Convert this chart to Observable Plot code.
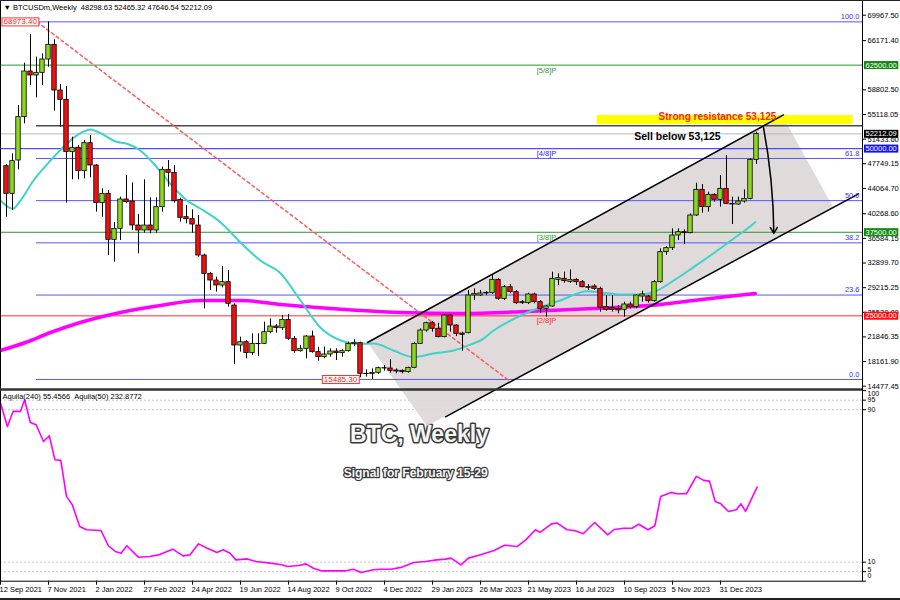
<!DOCTYPE html>
<html><head><meta charset="utf-8">
<script src="https://cdn.jsdelivr.net/npm/d3@7"></script>
<script src="https://cdn.jsdelivr.net/npm/@observablehq/plot@0.6"></script>
<style>
body{margin:0;background:#fff;}
#wrap{position:relative;width:900px;height:600px;overflow:hidden;background:#fff;}
#wrap svg{position:absolute;left:0;}
svg text{paint-order:stroke;}
.bline{position:absolute;background:#222;}
</style></head><body><div id="wrap"></div>
<script>
// ---------- DATA ----------
const opens = [47388,43250,48235,54717,61547,60948,61347,63341,65535,58705,
57309,49481,50130,46640,50827,47487,41853,43250,36369,38014,
42402,42103,38513,37765,38513,37765,41255,46839,46391,42352,
39759,39460,38513,34025,31284,30287,29538,30038,26547,20564,
21063,19418,20813,20813,22558,23405,23156,24403,21562,19717,
20066,21911,19567,18819,19218,19667,19418,19717,20764,20913,
16327,16277,16477,17175,17125,16826,16776,16576,17225,20813,
22807,23904,23056,21811,25051,23554,22360,22409,28043,28043,
28342,28392,30386,27544,29290,28542,26897,26897,28193,27046,
26049,26398,30386,30536,30087,30386,30037,29290,29390,29040,
26299,26199,26049,25899,26697,26299,27894,27894,27195,30037,
34524,35122,37016,37515,37366,40009,43848,41255,43100,42352,
43997,41753,41653,42102,42501,48298.63];
const highs = [47637,49232,56462,62793,67081,63691,64189,68973.4,66283,59602,
59303,51725,50478,51226,51974,47637,43997,43748,38961,42751,
45991,44894,40158,45343,42651,42651,47238,48235,47487,42601,
41504,40856,40009,34225,31500,30785,32381,31782,26797,21811,
21312,22309,22309,24054,24553,23705,25051,25200,21911,20564,
22060,22708,20315,20315,20066,20066,19916,21063,21412,21063,
16926,17076,17325,17575,18422,17076,16926,17325,21063,23056,
24054,24153,23904,25200,25200,23705,22558,28800,29040,28792,
28642,31035,30536,29539,29689,28792,27295,28392,28392,27295,
26547,31534,31284,31534,31883,30536,30286,29689,29689,29290,
28043,28043,26547,27046,27046,28193,28692,28043,30286,35023,
35372,38014,38014,37864,40258,44845,44645,43499,43250,45991,
48983,42751,42751,43848,48484,52465.32];
const lows = [39759,40756,46839,53719,59453,57608,59453,62195,55614,53221,
41853,45343,45343,45493,45642,40507,39759,34025,33028,36269,
41753,37765,34275,37366,37266,37366,40507,44247,41853,39011,
38762,37366,33776,26049,28790,28541,29189,26298,17722,19567,
18570,19069,18920,20714,22309,22409,22807,21312,19418,19567,
18570,19418,18221,18570,18820,18320,18820,19567,20415,15730,
15830,15485.3,16227,16726,16427,16327,16327,16427,17076,20714,
22558,22558,21712,21712,22558,21900,19717,22309,27295,27893,
28043,28192,27295,27295,28293,26697,26697,26697,26797,25400,
24804,26298,29540,29889,29889,29540,29190,28791,28791,25550,
25700,25550,25300,24804,26049,26049,27046,26897,27046,29889,
34025,34774,36269,35671,37266,39859,40358,40507,42003,41255,
41653,38662,41504,41853,42352,47646.54];
const closes = [43250,48135,54717,61547,60948,61347,63341,65535,58705,57309,
49481,50130,46640,50827,47487,41853,43250,36369,38014,42402,
42003,38513,37765,38513,37765,41255,46839,46391,42153,39659,
39460,38662,34025,31284,30287,29538,30038,26797,20564,21063,
19418,20813,20764,22558,23405,23156,24403,21562,19717,20066,
21911,19567,18819,19218,19667,19418,19717,20813,20964,16327,
16277,16477,17175,17125,16776,16676,16576,17225,20813,22807,
23904,23056,21811,25051,23554,22309,22160,28043,28292,28342,
28441,30386,27544,29290,28542,26897,27047,28193,27046,26049,
26398,30536,30635,30187,30336,30037,29290,29190,29040,26199,
25899,25899,25800,26697,26299,28043,28193,27195,30037,34524,
35122,37016,37515,37366,40009,43848,41255,43100,42352,43997,
41753,41653,42102,42501,48334,52212.09];

// 20-week moving average (cyan), read at week positions
const cyanWeek = [-1,1.05,2.33,4.5,7.33,10.1,12.3,14,15.67,18.2,20.1,22.3,24.5,27.8,30.1,32.3,35.7,39,42.3,45.7,49,52.3,55.7,58.4,61.2,64.5,67.8,71.2,74.5,77.8,79,81.2,86.8,92.3,96.8,99,102.3,105.2,107.8,111.2,114.5,117.8,121.2,123.5,124.8];
const cyanValue = [42252,41011,42252,45243,48234,50777,52317,52871,52317,51076,50732,49731,47787,44242,42252,41056,38962,35971,33279,31334,27296,23257,21313,20819,20864,19817,18815,19368,19817,20864,21313,22809,25501,27296,28687,28537,28193,28193,28537,30287,32276,34325,36569,38064,39007];
// 200-week moving average (magenta)
const magWeek = [-1,3.17,7.33,12.3,19,25.7,32.3,39,45.7,54,65.7,75.7,86.8,97.8,109,114.5,120.2,124.8];
const magValue = [19816,21014,22509,24005,25501,26548,27296,27296,26698,26099,25501,25352,25651,26099,26698,27296,27894,28343];
// Aquila(240) oscillator
const aquilaWeek = [-1,0.15,1.1,2.33,3.02,3.98,4.93,6.17,7.13,8.08,9.05,10,10.97,12.2,13.35,15.75,16.98,18.13,19.1,20.05,21.97,23.88,25.32,27.7,29.43,30.57,32,33.45,35.07,36.12,37.27,38.23,40.13,41.58,43.97,45.88,46.83,48.75,49.9,51.15,52.58,56.4,57.83,59.08,61.18,62.62,64.07,65.97,67.88,69.8,71.72,73.15,74.1,75.73,76.98,78.88,81.28,83,85.1,86.55,88.17,88.93,90.85,91.8,93.43,94.67,96.12,98.02,100.22,101.18,102.8,104.25,105.38,106.92,108.07,109.03,110.75,111.7,113.33,114.97,116.2,117.17,118.12,119.07,120.32,121.65,122.42,123.18,125.1];
const aquilaValue = [93.5,81.2,89.1,89.1,95.2,83.3,82.1,73.3,76.3,63.7,63.4,44.5,40.1,28.7,27,26.6,18.6,15.6,14.7,18.6,12.6,13,13.8,16.8,13.3,13.8,19.6,17.3,15.1,16.5,14.7,11.2,11.7,10.3,9.5,8.6,7.7,8.2,9.1,6.8,5.4,5.4,6.3,4.6,6,6.3,6.3,7.4,9.8,10.3,11.2,11.6,12.1,8.6,12.1,13.8,16.1,18.9,18.2,21.7,27,25.6,30.1,30.5,27,26.6,24.9,30.8,24.3,27,27.8,27.8,29.9,27,29.1,44.5,46.6,45.9,45.9,55,52.9,52.5,41.8,40.6,36.6,37.5,40.6,36.6,49.4];

const xTickWeek = [-1,7,15,23,31,39,47,55,63,71,79,87,95,103,111,119];
const xTickLabels = ["12 Sep 2021","7 Nov 2021","2 Jan 2022","27 Feb 2022","24 Apr 2022","19 Jun 2022","14 Aug 2022","9 Oct 2022","4 Dec 2022","29 Jan 2023","26 Mar 2023","21 May 2023","16 Jul 2023","10 Sep 2023","5 Nov 2023","31 Dec 2023"];
const priceTicks = [69967.50,66171.40,58802.50,55118.05,51433.60,47749.15,44064.70,40268.60,36584.15,32899.70,29215.25,25530.80,21846.35,18161.90,14477.45];
const indTicks = [100,95,90,10,5,0];
const indLabelShift = [3,0,0,0,-2,-5];
const indGuides = [95,90,10,5];

const fibHigh = 68973.40, fibLow = 15485.30;
const fibLevels = [0,23.6,38.2,50,61.8,100];
const fibLabels = ["0.0","23.6","38.2","50.0","61.8","100.0"];
const murreyPrices = [62500,50000,37500,25000];
const murreyLabels = ["[5/8]P","[4/8]P","[3/8]P","[2/8]P"];
const murreyColors = ["#2e952e","#2424ff","#2e952e","#ff2a2a"];
const boxPrices = [62500,52212.09,50000,37500,25000];
const boxColors = ["#128a12","#000000","#1010ff","#128a12","#ff1010"];
const bidPrice = 52212.09;
const resistancePrice = 53450;
const resistZone = {i1:98.45, i2:141.1, p1:53619, p2:54965};
const trendPts = [{i:5.1,p:68973.4},{i:83.5,p:15485.3}];
const channelUpper = [{i:60.17,p:21013},{i:129.5,p:55048}];
const channelLower = [{i:73.17,p:9902},{i:142,p:43256}];
const channelFill = [{i:60.17,lo:21013,hi:21013},{i:70.17,lo:8450,hi:25922},{i:129.33,lo:37090,hi:54965},{i:137.83,lo:41205,hi:41205}];
const arrowPts = {i1:126.17,p1:53171,i2:127.9,p2:37317};

// ---------- LAYOUT ----------
const FONT = '"Liberation Sans", Arial, sans-serif';
const GREEN = "#8cd81e", RED = "#f01010";
const xDomain = [-1, 142.67];
const yDomain = [13983.5, 72166];

const candles = opens.map((o,i)=>({i, o, h: highs[i], l: lows[i], c: closes[i]}));
const cyan = cyanWeek.map((i,k)=>({i, v: cyanValue[k]}));
const mag = magWeek.map((i,k)=>({i, v: magValue[k]}));
const aq = aquilaWeek.map((i,k)=>({i, v: aquilaValue[k]}));
const fib = fibLevels.map((f,k)=>({p: fibLow + f/100*(fibHigh-fibLow), label: fibLabels[k]}));
const murrey = murreyPrices.map((p,k)=>({p, label: murreyLabels[k], color: murreyColors[k]}));
const boxes = boxPrices.map((p,k)=>({p, label: p.toFixed(2), color: boxColors[k]}));
const indLabels = indTicks.map((v,k)=>({v, shift: indLabelShift[k]}));
const shiftGroups = Array.from(new Set(indLabelShift));

const mainChart = Plot.plot({
  width: 900, height: 389,
  marginTop: 0, marginRight: 38, marginBottom: 0, marginLeft: 0,
  style: {background: "transparent", overflow: "visible", fontFamily: FONT, fontSize: "7.5px", color: "#000"},
  x: {domain: xDomain, axis: null},
  y: {domain: yDomain, axis: "right", ticks: priceTicks, tickFormat: d => d.toFixed(2), tickSize: 3, tickPadding: 2, label: null},
  marks: [
    Plot.areaY(channelFill, {x: "i", y1: "lo", y2: "hi", fill: "#ded6d6", fillOpacity: 0.9}),
    Plot.ruleY([bidPrice], {stroke: "#b9b9b9"}),
    Plot.ruleY(murrey, {y: "p", stroke: "color"}),
    Plot.ruleY(fib, {y: "p", x1: 5, x2: xDomain[1], stroke: "#5656ff"}),
    Plot.rect([resistZone], {x1: "i1", x2: "i2", y1: "p1", y2: "p2", fill: "#ffff00"}),
    Plot.ruleY([resistancePrice], {x1: 5, x2: xDomain[1], stroke: "#4a4a4a", strokeWidth: 1.5}),
    Plot.line(trendPts, {x: "i", y: "p", stroke: "#ff5a5a", strokeDasharray: "3,3"}),
    Plot.line(mag, {x: "i", y: "v", stroke: "#ff00ff", strokeWidth: 3.5, curve: "monotone-x"}),
    Plot.line(cyan, {x: "i", y: "v", stroke: "#3dd3cb", strokeWidth: 2, curve: "monotone-x"}),
    Plot.ruleX(candles, {x: "i", y1: "l", y2: "h", stroke: "#000"}),
    Plot.rect(candles, {x1: d => d.i - 0.37, x2: d => d.i + 0.37, y1: "o", y2: "c", fill: d => d.c >= d.o ? GREEN : RED, stroke: "#000", strokeWidth: 0.8}),
    Plot.line(channelUpper, {x: "i", y: "p", stroke: "#000"}),
    Plot.line(channelLower, {x: "i", y: "p", stroke: "#000"}),
    Plot.arrow([arrowPts], {x1: "i1", y1: "p1", x2: "i2", y2: "p2", bend: 5, stroke: "#000", headLength: 7}),
    Plot.text(fib, {y: "p", text: "label", frameAnchor: "right", textAnchor: "end", dx: -3, dy: -5, fill: "#3434ff"}),
    Plot.text(murrey, {x: 90, y: "p", text: "label", fill: "color", dy: 5}),
    Plot.text(["Strong resistance 53,125"], {x: 118.5, y: 54711, text: d => d, fill: "#ff2020", fontWeight: "bold", fontSize: 10}),
    Plot.text(["Sell below 53,125"], {x: 111.83, y: 51824, text: d => d, fill: "#000", fontWeight: "bold", fontSize: 10.5}),
    Plot.text([fibHigh], {y: d => d, frameAnchor: "left", textAnchor: "start", dx: 3, text: d => d.toFixed(2), fill: "#ff2020", fontSize: 8}),
    Plot.text([fibLow], {x: 55.67, y: d => d, text: d => d.toFixed(2), fill: "#ff2020", fontSize: 8}),
    Plot.text(boxes, {y: "p", text: "label", frameAnchor: "right", textAnchor: "start", dx: 3, fill: "#fff"}),
    Plot.text(["\u25BC BTCUSDm,Weekly\u00a0\u00a048298.63 52465.32 47646.54 52212.09"], {frameAnchor: "top-left", textAnchor: "start", lineAnchor: "middle", dx: 3, dy: 7, text: d => d, fill: "#000"}),
    Plot.frame({stroke: "#000"}),
    Plot.ruleY([yDomain[0]], {stroke: "#333", strokeWidth: 2.5})
  ]
});

const indChart = Plot.plot({
  width: 900, height: 211,
  marginTop: 0, marginRight: 38, marginBottom: 19.3, marginLeft: 0,
  style: {background: "#fff", fontFamily: FONT, fontSize: "7.5px", color: "#000"},
  x: {domain: xDomain, axis: "bottom", ticks: xTickWeek, tickFormat: () => "", tickSize: 4, label: null},
  y: {domain: [0, 100.6], axis: "right", ticks: indTicks, tickFormat: () => "", tickSize: 3, label: null},
  marks: [
    Plot.ruleY(indGuides, {stroke: "#c4c4c4", strokeDasharray: "2,2"}),
    Plot.line(aq, {x: "i", y: "v", stroke: "#ff00ff", strokeWidth: 1.6}),
    ...shiftGroups.map(s => Plot.text(indLabels.filter(d => d.shift === s), {y: "v", text: d => String(d.v), frameAnchor: "right", textAnchor: "start", dx: 5, dy: s, fill: "#000", fontSize: 7})),
    Plot.text(xTickWeek, {x: d => d, frameAnchor: "bottom", textAnchor: "start", lineAnchor: "middle", dy: 8, dx: -1, text: (d, k) => xTickLabels[k], fill: "#000", fontSize: 7.5}),
    Plot.text(["Aquila(240) 55.4566\u00a0\u00a0Aquila(50) 232.8772"], {frameAnchor: "top-left", textAnchor: "start", lineAnchor: "middle", dx: 2, dy: 7, text: d => d, fill: "#000"}),
    Plot.text(["BTC, Weekly"], {x: 68.83, y: 76.85, text: d => d, fontSize: 23, fontWeight: "bold", fill: "#f6f6f6", stroke: "#3a3a3a", strokeWidth: 3}),
    Plot.text(["Signal for February 15-29"], {x: 68.2, y: 56.5, text: d => d, fontSize: 12, fontWeight: "bold", fill: "#f6f6f6", stroke: "#3a3a3a", strokeWidth: 2.5}),
    Plot.frame({stroke: "#000"})
  ]
});

const wrap = document.getElementById("wrap");
indChart.style.top = "389px";
mainChart.style.top = "0px";
wrap.appendChild(indChart);
wrap.appendChild(mainChart);
const topLine = document.createElement("div"); topLine.className = "bline";
topLine.style.cssText += "left:0;top:0;width:900px;height:1px;";
wrap.appendChild(topLine);
const botLine = document.createElement("div"); botLine.className = "bline";
botLine.style.cssText += "left:0;top:598px;width:900px;height:2px;";
wrap.appendChild(botLine);

// background boxes behind specific label texts (matched by their text content)
function boxify(svg, labels, fills, strokes) {
  svg.querySelectorAll("text").forEach(t => {
    const k = labels.indexOf(t.textContent);
    if (k < 0) return;
    const b = t.getBBox();
    const r = document.createElementNS("http://www.w3.org/2000/svg", "rect");
    r.setAttribute("x", b.x - 1.5); r.setAttribute("y", b.y + 0.5);
    r.setAttribute("width", b.width + 3); r.setAttribute("height", b.height - 1);
    if (t.getAttribute("transform")) r.setAttribute("transform", t.getAttribute("transform"));
    r.setAttribute("fill", fills[k]);
    if (strokes) r.setAttribute("stroke", strokes[k]);
    t.parentNode.insertBefore(r, t);
  });
}
boxify(mainChart, boxes.map(d => d.label), boxColors);
boxify(mainChart, [fibHigh.toFixed(2), fibLow.toFixed(2)], ["#fff", "#fff"], ["#ff3030", "#ff3030"]);
</script></body></html>
